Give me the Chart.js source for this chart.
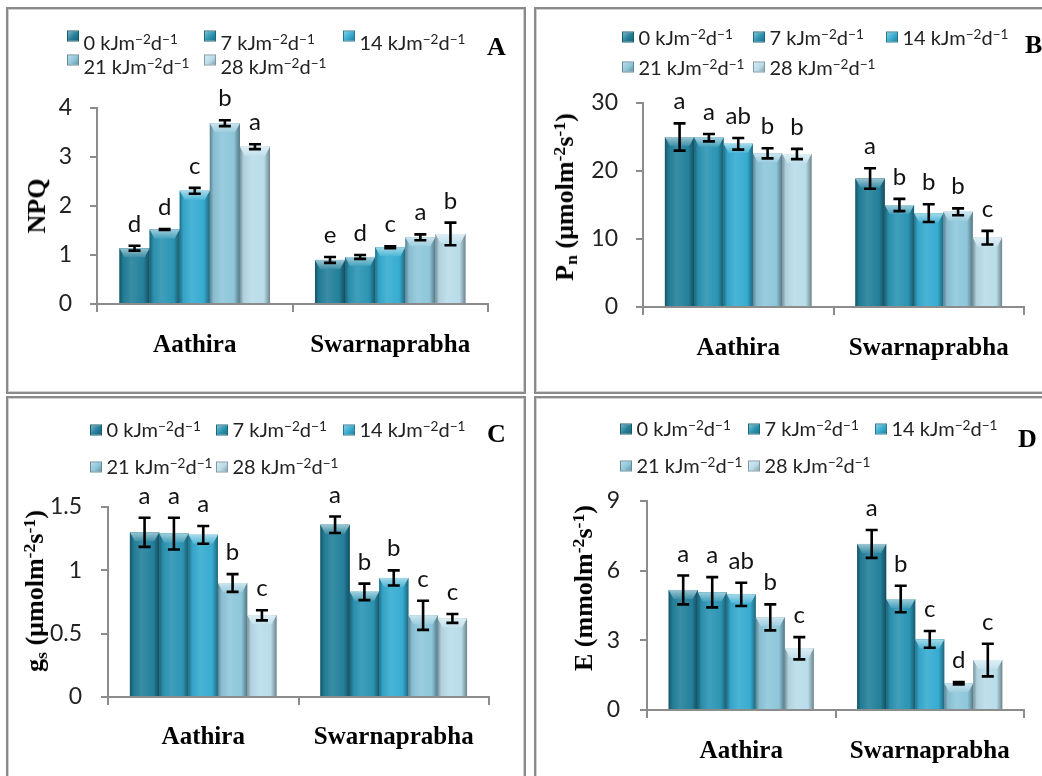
<!DOCTYPE html>
<html>
<head>
<meta charset="utf-8">
<title>NPQ, Pn, gs, E</title>
<script src="https://cdn.jsdelivr.net/npm/chart.js@4.4.1/dist/chart.umd.min.js"></script>
<style>
html, body { margin: 0; padding: 0; background: #fff; }
body { width: 1042px; height: 776px; position: relative; overflow: hidden; }
.panel { position: absolute; box-sizing: border-box; border: 2px solid #8a8a8a; box-shadow: inset 0 0 0 1px #d0d0d0; }
canvas { position: absolute; }
.lg { position: absolute; font-family: Lato, sans-serif; font-size: 20px; color: #222; line-height: 1; white-space: nowrap; transform: translateY(-50%); }
.lg sup { font-size: 0.68em; position: relative; top: -0.42em; vertical-align: baseline; line-height: 0; }
.box { position: absolute; width: 12px; height: 11px; box-sizing: border-box; transform: translateY(-50%); }
.ytitle { position: absolute; font-family: "Liberation Serif", serif; font-weight: bold; font-size: 26px; line-height: 1; white-space: nowrap; color: #000; transform: translate(-50%, -50%) rotate(-90deg); }
.ytitle sup { font-size: 0.68em; position: relative; top: -0.45em; vertical-align: baseline; line-height: 0; }
.ytitle sub { font-size: 0.68em; position: relative; top: 0.25em; vertical-align: baseline; line-height: 0; }
.tag { position: absolute; font-family: "Liberation Serif", serif; font-weight: bold; font-size: 26px; line-height: 1; color: #000; }
</style>
</head>
<body>
<script>
"use strict"

// --- dati ---
const categories = ["Aathira", "Swarnaprabha"];
const doses = [0, 7, 14, 21, 28];
const doseColors = ["#23809b", "#2b94b3", "#36acd0", "#8ec6da", "#b8dce9"];

// A - NPQ
const npqTicks = [0, 1, 2, 3, 4];
const npqAathira = [1.14, 1.52, 2.31, 3.69, 3.21];
const npqAathiraSe = [0.05, 0.01, 0.06, 0.06, 0.05];
const npqAathiraLetters = ["d", "d", "c", "b", "a"];
const npqSwarna = [0.90, 0.96, 1.16, 1.36, 1.43];
const npqSwarnaSe = [0.06, 0.04, 0.02, 0.06, 0.23];
const npqSwarnaLetters = ["e", "d", "c", "a", "b"];

// B - Pn
const pnTicks = [0, 10, 20, 30];
const pnAathira = [25.0, 24.9, 24.0, 22.6, 22.5];
const pnAathiraSe = [2.0, 0.55, 0.85, 0.75, 0.75];
const pnAathiraLetters = ["a", "a", "ab", "b", "b"];
const pnSwarna = [18.9, 15.0, 13.8, 14.0, 10.2];
const pnSwarnaSe = [1.5, 0.9, 1.3, 0.5, 1.0];
const pnSwarnaLetters = ["a", "b", "b", "b", "c"];

// C - gs
const gsTicks = [0, 0.5, 1, 1.5];
const gsAathira = [1.30, 1.29, 1.28, 0.90, 0.645];
const gsAathiraSe = [0.115, 0.125, 0.07, 0.07, 0.04];
const gsAathiraLetters = ["a", "a", "a", "b", "c"];
const gsSwarna = [1.36, 0.83, 0.94, 0.645, 0.62];
const gsSwarnaSe = [0.065, 0.065, 0.06, 0.115, 0.035];
const gsSwarnaLetters = ["a", "b", "b", "c", "c"];

// D - E
const eTicks = [0, 3, 6, 9];
const eAathira = [5.17, 5.07, 4.98, 3.99, 2.66];
const eAathiraSe = [0.62, 0.65, 0.5, 0.56, 0.48];
const eAathiraLetters = ["a", "a", "ab", "b", "c"];
const eSwarna = [7.15, 4.78, 3.04, 1.15, 2.15];
const eSwarnaSe = [0.6, 0.57, 0.36, 0.05, 0.7];
const eSwarnaLetters = ["a", "b", "c", "d", "c"];

// --- layout dei quattro riquadri ---
const panels = [
    {
        tag: "A", box: [6, 7, 520, 387], canvas: [8, 9, 516, 382],
        yWidth: 89, padRight: 36, padTop: 99, xHeight: 87, yPad: 18, xPad: 18.5,
        ticks: npqTicks, title: "NPQ", titlePos: [37, 206], tagPos: [487, 34],
        legendX: [67, 204, 343, 67, 204], legendY: [41.5, 66], iconShift: -6,
        series: [npqAathira, npqAathiraSe, npqAathiraLetters, npqSwarna, npqSwarnaSe, npqSwarnaLetters]
    },
    {
        tag: "B", box: [534, 7, 520, 387], canvas: [536, 9, 506, 382],
        yWidth: 107, padRight: 18, padTop: 94, xHeight: 84, yPad: 18, xPad: 18.5,
        ticks: pnTicks, title: "P<sub>n</sub> (µmolm<sup>-2</sup>s<sup>-1</sup>)", titlePos: [565, 197], tagPos: [1025, 32],
        legendX: [622, 753, 886, 622, 753], legendY: [36.5, 66.5], iconShift: 0,
        series: [pnAathira, pnAathiraSe, pnAathiraLetters, pnSwarna, pnSwarnaSe, pnSwarnaLetters]
    },
    {
        tag: "C", box: [6, 396, 520, 400], canvas: [8, 398, 516, 378],
        yWidth: 100, padRight: 35, padTop: 109, xHeight: 79, yPad: 19, xPad: 18,
        ticks: gsTicks, title: "g<sub>s</sub> (µmolm<sup>-2</sup>s<sup>-1</sup>)", titlePos: [35, 591], tagPos: [487, 421],
        legendX: [90, 216, 343, 90, 216], legendY: [429, 465.5], iconShift: 1,
        series: [gsAathira, gsAathiraSe, gsAathiraLetters, gsSwarna, gsSwarnaSe, gsSwarnaLetters]
    },
    {
        tag: "D", box: [534, 396, 520, 400], canvas: [536, 398, 506, 378],
        yWidth: 111, padRight: 18, padTop: 103, xHeight: 66, yPad: 20, xPad: 18.5,
        ticks: eTicks, title: "E (mmolm<sup>-2</sup>s<sup>-1</sup>)", titlePos: [584, 588], tagPos: [1018, 426],
        legendX: [620, 748, 875, 620, 748], legendY: [428, 464.5], iconShift: 1,
        series: [eAathira, eAathiraSe, eAathiraLetters, eSwarna, eSwarnaSe, eSwarnaLetters]
    }
];

const axisColor = "#8c8c8c";

function shade(hex, f) {
    let n = parseInt(hex.slice(1), 16);
    let rgb = [(n >> 16) & 255, (n >> 8) & 255, n & 255];
    rgb = rgb.map(v => Math.round(f >= 0 ? v + (255 - v) * f : v * (1 + f)));
    return "rgb(" + rgb.join(",") + ")";
}

// ombreggiatura "cilindrica", barre d'errore e lettere
const barLook = {
    id: "barLook",
    afterDatasetsDraw(chart) {
        const ctx = chart.ctx;
        const yScale = chart.scales.y;
        ctx.save();
        chart.data.datasets.forEach((ds, di) => {
            const color = ds.backgroundColor;
            chart.getDatasetMeta(di).data.forEach(bar => {
                const l = bar.x - bar.width / 2, r = bar.x + bar.width / 2, w = bar.width;
                const t = bar.y, b = bar.base;
                let g = ctx.createLinearGradient(l, 0, r, 0);
                g.addColorStop(0, shade(color, -0.35));
                g.addColorStop(0.12, shade(color, -0.05));
                g.addColorStop(0.4, shade(color, 0.1));
                g.addColorStop(0.8, color);
                g.addColorStop(1, shade(color, -0.4));
                ctx.fillStyle = g;
                ctx.fillRect(l, t, w, b - t);
                let cg = ctx.createLinearGradient(0, t, 0, t + 9);
                cg.addColorStop(0, shade(color, 0.55));
                cg.addColorStop(1, shade(color, 0.12));
                ctx.fillStyle = cg;
                ctx.beginPath();
                ctx.moveTo(l, t);
                ctx.lineTo(r, t);
                ctx.lineTo(r - 5, t + 9);
                ctx.lineTo(l + 5, t + 9);
                ctx.closePath();
                ctx.fill();
            });
        });
        ctx.strokeStyle = "#000";
        ctx.lineWidth = 2.6;
        ctx.fillStyle = "#111";
        ctx.font = "24px Lato";
        ctx.textAlign = "center";
        ctx.textBaseline = "alphabetic";
        chart.data.datasets.forEach((ds, di) => {
            chart.getDatasetMeta(di).data.forEach((bar, i) => {
                const v = ds.data[i], e = ds.errors[i];
                const yHi = yScale.getPixelForValue(v + e);
                const yLo = yScale.getPixelForValue(v - e);
                ctx.beginPath();
                ctx.moveTo(bar.x, yHi); ctx.lineTo(bar.x, yLo);
                ctx.moveTo(bar.x - 6, yHi); ctx.lineTo(bar.x + 6, yHi);
                ctx.moveTo(bar.x - 6, yLo); ctx.lineTo(bar.x + 6, yLo);
                ctx.stroke();
                ctx.fillText(ds.letters[i], bar.x, yHi - 14);
            });
        });
        ctx.restore();
    }
};

function buildDatasets(s) {
    return doses.map((d, i) => ({
        label: d + " kJm⁻²d⁻¹",
        data: [s[0][i], s[3][i]],
        errors: [s[1][i], s[4][i]],
        letters: [s[2][i], s[5][i]],
        backgroundColor: doseColors[i],
        borderWidth: 0
    }));
}

function place(el, x, y) {
    el.style.left = x + "px";
    el.style.top = y + "px";
    document.body.appendChild(el);
}

function makePanel(p) {
    let box = document.createElement("div");
    box.className = "panel";
    box.style.width = p.box[2] + "px";
    box.style.height = p.box[3] + "px";
    place(box, p.box[0], p.box[1]);

    let canvas = document.createElement("canvas");
    canvas.width = p.canvas[2];
    canvas.height = p.canvas[3];
    place(canvas, p.canvas[0], p.canvas[1]);

    const ticks = p.ticks;
    new Chart(canvas, {
        type: "bar",
        data: { labels: categories, datasets: buildDatasets(p.series) },
        options: {
            responsive: false,
            animation: false,
            categoryPercentage: 0.77,
            barPercentage: 1,
            layout: { padding: { left: 0, right: p.padRight, top: p.padTop, bottom: 0 } },
            plugins: { legend: { display: false }, tooltip: { enabled: false } },
            scales: {
                x: {
                    grid: { drawOnChartArea: false, drawTicks: true, tickLength: 8, color: axisColor, lineWidth: 2, offset: true },
                    border: { color: axisColor, width: 2 },
                    ticks: { font: { family: "Liberation Serif", weight: "bold", size: 25 }, color: "#000", padding: p.xPad },
                    afterFit: s => { s.height = p.xHeight; }
                },
                y: {
                    min: ticks[0],
                    max: ticks[ticks.length - 1],
                    grid: { drawOnChartArea: false, drawTicks: true, tickLength: 7, color: axisColor, lineWidth: 2 },
                    border: { color: axisColor, width: 2 },
                    ticks: {
                        stepSize: ticks[1] - ticks[0],
                        font: { family: "Lato", size: 23 },
                        color: "#222",
                        padding: p.yPad,
                        callback: v => String(v)
                    },
                    afterFit: s => { s.width = p.yWidth; }
                }
            }
        },
        plugins: [barLook]
    });

    // legenda
    doses.forEach((d, i) => {
        const rowY = p.legendY[i < 3 ? 0 : 1];
        let icon = document.createElement("div");
        icon.className = "box";
        const c = doseColors[i];
        icon.style.background = "linear-gradient(135deg, " + shade(c, 0.4) + ", " + c + " 55%, " + shade(c, -0.25) + ")";
        icon.style.border = "1px solid " + shade(c, -0.3);
        place(icon, p.legendX[i], rowY + p.iconShift);
        let txt = document.createElement("div");
        txt.className = "lg";
        txt.innerHTML = d + " kJm<sup>−2</sup>d<sup>−1</sup>";
        place(txt, p.legendX[i] + 16.5, rowY);
    });

    let title = document.createElement("div");
    title.className = "ytitle";
    title.innerHTML = p.title;
    place(title, p.titlePos[0], p.titlePos[1]);

    let tag = document.createElement("div");
    tag.className = "tag";
    tag.textContent = p.tag;
    place(tag, p.tagPos[0], p.tagPos[1]);
}

panels.forEach(makePanel);
</script>
</body>
</html>
